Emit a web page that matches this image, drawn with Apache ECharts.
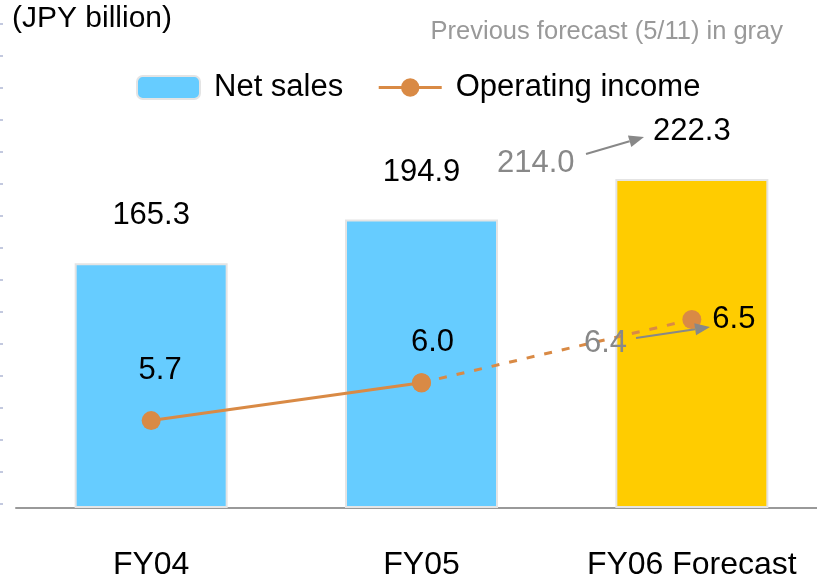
<!DOCTYPE html>
<html>
<head>
<meta charset="utf-8">
<script src="https://cdn.jsdelivr.net/npm/echarts@6/dist/echarts.min.js"></script>
<style>
  html, body { margin: 0; padding: 0; background: #fff; }
  #chart { width: 817px; height: 576px; }
</style>
</head>
<body>
<div id="chart"></div>
<script>
const categories = ["FY04", "FY05", "FY06 Forecast"];
const netSales = [165.3, 194.9, 222.3];
const operatingIncome = [5.7, 6.0, 6.5];
const prevSales = 214.0;
const prevIncome = 6.4;
const tickSteps = [0, 15];

const FONT = "Liberation Sans, Arial, sans-serif";
const BLUE = "#66ccff";
const GOLD = "#ffcc00";
const ORANGE = "#d98a45";
const GRAY = "#888888";

// arrow helper for the "previous forecast" notes
function arrow(x1, y1, x2, y2) {
  const a = Math.atan2(y2 - y1, x2 - x1);
  const len = 15, half = 6;
  const bx = x2 - len * Math.cos(a), by = y2 - len * Math.sin(a);
  return [
    {
      type: "line",
      shape: { x1: x1, y1: y1, x2: bx, y2: by },
      style: { stroke: GRAY, lineWidth: 2 },
    },
    {
      type: "polygon",
      shape: {
        points: [
          [x2, y2],
          [bx + half * Math.sin(a), by - half * Math.cos(a)],
          [bx - half * Math.sin(a), by + half * Math.cos(a)],
        ],
      },
      style: { fill: GRAY },
    },
  ];
}

// solid part FY04-FY05, dashed part FY05-FY06
const solidData = operatingIncome.map(function (v, i) {
  if (i > 1) return "-";
  return {
    value: v,
    label: i === 0
      ? { show: true, position: "top", distance: 25, offset: [9, 0] }
      : { show: true, position: "top", distance: 15, offset: [11, 0] },
  };
});
const dashedData = operatingIncome.map(function (v, i) {
  if (i < 1) return "-";
  return {
    value: v,
    label: i === 2
      ? { show: true, position: "right", distance: 11 }
      : { show: false },
  };
});

const barData = netSales.map(function (v, i) {
  return i === 2 ? { value: v, itemStyle: { color: GOLD } } : v;
});

const chart = echarts.init(document.getElementById("chart"), null, { renderer: "canvas" });

const option = {
  backgroundColor: "#fff",
  animation: false,
  textStyle: { fontFamily: FONT },
  title: [
    {
      text: "(JPY billion)",
      left: 12,
      top: 4,
      padding: 0,
      textStyle: { fontFamily: FONT, fontSize: 30, fontWeight: "normal", color: "#000" },
    },
    {
      text: "Previous forecast (5/11) in gray",
      right: 34,
      top: 19,
      padding: 0,
      textStyle: { fontFamily: FONT, fontSize: 25.5, fontWeight: "normal", color: "#999" },
    },
  ],
  legend: {
    data: ["Net sales", "Operating income"],
    left: 136,
    top: 72,
    padding: 0,
    itemWidth: 63,
    itemHeight: 23,
    itemGap: 34,
    lineStyle: { width: 3 },
    textStyle: { fontFamily: FONT, fontSize: 31, color: "#000", padding: [0, 0, 0, 9] },
  },
  grid: [
    { left: 16, right: -10, top: 64, bottom: 68, outerBoundsMode: "none" },
    { left: 16, right: -10, top: 67, bottom: 67, outerBoundsMode: "none" },
    { left: 16, right: -10, top: 24, bottom: 72, outerBoundsMode: "none" },
  ],
  xAxis: [
    {
      type: "category",
      gridIndex: 0,
      data: categories,
      axisLine: { lineStyle: { color: "#999", width: 2 } },
      axisTick: { show: false },
      axisLabel: { interval: 0, fontFamily: FONT, fontSize: 32, color: "#000", margin: 41 },
    },
    { type: "category", gridIndex: 1, data: categories, show: false },
    { type: "category", gridIndex: 2, data: categories, show: false },
  ],
  yAxis: [
    { type: "value", gridIndex: 0, min: 0, max: 300, show: false },
    { type: "value", gridIndex: 1, min: 5, max: 8.5, show: false },
    {
      type: "value",
      gridIndex: 2,
      min: tickSteps[0],
      max: tickSteps[1],
      interval: 1,
      offset: 13,
      axisLine: { show: false },
      axisTick: { show: true, length: 3, lineStyle: { color: "#c3c9df", width: 2 } },
      axisLabel: { show: false },
      splitLine: { show: false },
    },
  ],
  series: [
    {
      name: "Net sales",
      type: "bar",
      xAxisIndex: 0,
      yAxisIndex: 0,
      barWidth: 153,
      data: barData,
      itemStyle: { color: BLUE, borderColor: "#e4e4e4", borderWidth: 2 },
      label: {
        show: true,
        position: "top",
        distance: 32,
        fontFamily: FONT,
        fontSize: 31,
        color: "#000",
        formatter: function (p) { return p.value.toFixed(1); },
      },
    },
    {
      name: "Operating income",
      type: "line",
      xAxisIndex: 1,
      yAxisIndex: 1,
      data: solidData,
      symbol: "circle",
      symbolSize: 19,
      lineStyle: { color: ORANGE, width: 3 },
      itemStyle: { color: ORANGE },
      label: {
        fontFamily: FONT,
        fontSize: 31,
        color: "#000",
        formatter: function (p) { return p.value.toFixed(1); },
      },
      z: 3,
    },
    {
      name: "Operating income",
      type: "line",
      xAxisIndex: 1,
      yAxisIndex: 1,
      data: dashedData,
      symbol: "circle",
      symbolSize: 19,
      lineStyle: { color: ORANGE, width: 3, type: [8, 10] },
      itemStyle: { color: ORANGE },
      label: {
        fontFamily: FONT,
        fontSize: 31,
        color: "#000",
        formatter: function (p) { return p.value.toFixed(1); },
      },
      z: 3,
    },
  ],
  graphic: [
    {
      type: "text",
      left: 497,
      top: 148,
      style: { text: prevSales.toFixed(1), font: "31px " + FONT, fill: GRAY },
    },
    {
      type: "text",
      left: 584,
      top: 328,
      style: { text: prevIncome.toFixed(1), font: "31px " + FONT, fill: GRAY },
    },
  ]
    .concat(arrow(586, 154, 644, 137))
    .concat(arrow(636, 338, 710, 327))
    .map(function (g) { g.z = 10; return g; }),
};

chart.setOption(option);
</script>
</body>
</html>
